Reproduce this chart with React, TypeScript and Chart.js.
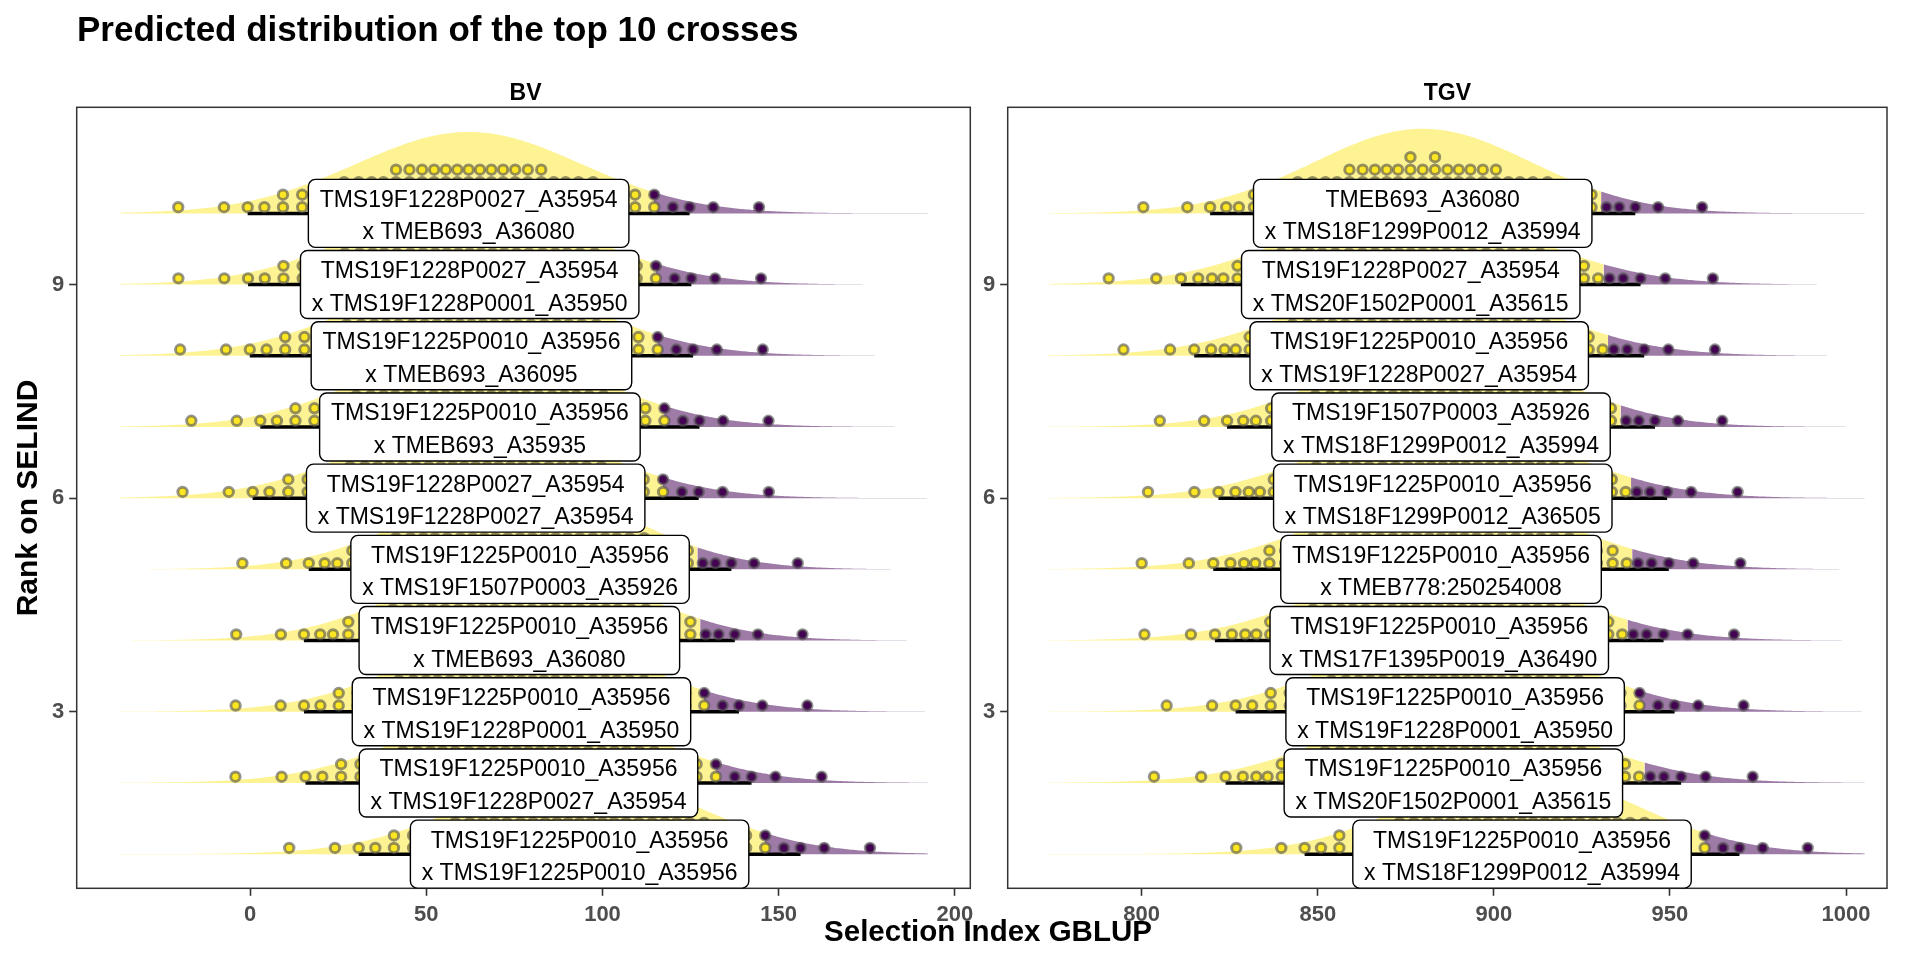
import React, { useEffect, useRef } from "react";
import { Chart, registerables } from "chart.js";

Chart.register(...registerables);

// ------------------------------------------------------------------ data
const RANKS = [1, 2, 3, 4, 5, 6, 7, 8, 9, 10];
const Y_TICKS = [3, 6, 9];

const BV_TICKS = [0, 50, 100, 150, 200];
const BV_MEAN = [93.5, 79.0, 77.0, 76.4, 76.6, 64.0, 65.2, 62.8, 62.3, 62.0];
const BV_SD = [32.0, 32.3, 31.5, 31.2, 30.6, 32.3, 31.8, 32.1, 32.1, 32.0];
const BV_PARENT_A = [
  "TMS19F1225P0010_A35956",
  "TMS19F1225P0010_A35956",
  "TMS19F1225P0010_A35956",
  "TMS19F1225P0010_A35956",
  "TMS19F1225P0010_A35956",
  "TMS19F1228P0027_A35954",
  "TMS19F1225P0010_A35956",
  "TMS19F1225P0010_A35956",
  "TMS19F1228P0027_A35954",
  "TMS19F1228P0027_A35954",
];
const BV_PARENT_B = [
  "TMS19F1225P0010_A35956",
  "TMS19F1228P0027_A35954",
  "TMS19F1228P0001_A35950",
  "TMEB693_A36080",
  "TMS19F1507P0003_A35926",
  "TMS19F1228P0027_A35954",
  "TMEB693_A35935",
  "TMEB693_A36095",
  "TMS19F1228P0001_A35950",
  "TMEB693_A36080",
];

const TGV_TICKS = [800, 850, 900, 950, 1000];
const TGV_MEAN = [908.0, 888.5, 889.0, 884.5, 885.0, 885.5, 885.0, 878.8, 876.4, 879.8];
const TGV_SD = [31.5, 33.0, 31.8, 32.5, 33.0, 32.5, 31.0, 32.6, 33.3, 30.8];
const TGV_PARENT_A = [
  "TMS19F1225P0010_A35956",
  "TMS19F1225P0010_A35956",
  "TMS19F1225P0010_A35956",
  "TMS19F1225P0010_A35956",
  "TMS19F1225P0010_A35956",
  "TMS19F1225P0010_A35956",
  "TMS19F1507P0003_A35926",
  "TMS19F1225P0010_A35956",
  "TMS19F1228P0027_A35954",
  "TMEB693_A36080",
];
const TGV_PARENT_B = [
  "TMS18F1299P0012_A35994",
  "TMS20F1502P0001_A35615",
  "TMS19F1228P0001_A35950",
  "TMS17F1395P0019_A36490",
  "TMEB778:250254008",
  "TMS18F1299P0012_A36505",
  "TMS18F1299P0012_A35994",
  "TMS19F1228P0027_A35954",
  "TMS20F1502P0001_A35615",
  "TMS18F1299P0012_A35994",
];

const N_DOTS = 100; // quantile dots per cross
const SELECTED_FRACTION = 0.05; // upper tail highlighted in purple

// ------------------------------------------------------------------ styles / layout
const FONT = '"Liberation Sans", Arial, Helvetica, sans-serif';
const SLAB_LOW = "rgba(253,231,37,0.5)";
const SLAB_HIGH = "rgba(68,1,84,0.52)";
const DOT_LOW = "#FDE725";
const DOT_HIGH = "#440154";
const DOT_RING = "rgba(80,80,80,0.6)";
const AXIS_COLOR = "#333333";
const TICK_TEXT = "#4D4D4D";

const W = 1920;
const H = 960;
const PANEL_TOP = 107.3;
const PANEL_BOTTOM = 888.3;
const Y_MIN = 0.52;
const Y_MAX = 11.49;
const PX_PER_Y = (PANEL_BOTTOM - PANEL_TOP) / (Y_MAX - Y_MIN);

const SLAB_SCALE = 36.6; // slab peak height (rank units) x sd
const SLAB_TAIL_Z = 3.09;
const BIN_WIDTH = 3.15; // dot bin width, x units
const DOT_R = 4.7;
const DOT_RING_W = 3;
const DOT_BASE_PX = 6.2;
const DOT_STEP_PX = 12.5;

const LABEL_FONT_SIZE = 23;
const LABEL_PAD_X = 11.3;
const LABEL_H = 68;
const LABEL_R = 7;

interface PanelSpec {
  name: string;
  means: number[];
  sds: number[];
  parentA: string[];
  parentB: string[];
  ticks: number[];
  xMin: number;
  xMax: number;
  canvasLeft: number;
  canvasWidth: number;
  panelLeft: number;
  panelRight: number;
}

const PANELS: PanelSpec[] = [
  {
    name: "BV",
    means: BV_MEAN,
    sds: BV_SD,
    parentA: BV_PARENT_A,
    parentB: BV_PARENT_B,
    ticks: BV_TICKS,
    xMin: -49.25,
    xMax: 204.4,
    canvasLeft: 0,
    canvasWidth: 978,
    panelLeft: 76.7,
    panelRight: 974.3,
  },
  {
    name: "TGV",
    means: TGV_MEAN,
    sds: TGV_SD,
    parentA: TGV_PARENT_A,
    parentB: TGV_PARENT_B,
    ticks: TGV_TICKS,
    xMin: 761.95,
    xMax: 1011.64,
    canvasLeft: 978,
    canvasWidth: 942,
    panelLeft: 1007.7,
    panelRight: 1887,
  },
];

// ------------------------------------------------------------------ helpers
function qnorm(p: number): number {
  const a = [-3.969683028665376e1, 2.209460984245205e2, -2.759285104469687e2, 1.38357751867269e2, -3.066479806614716e1, 2.506628277459239];
  const b = [-5.447609879822406e1, 1.615858368580409e2, -1.556989798598866e2, 6.680131188771972e1, -1.328068155288572e1];
  const c = [-7.784894002430293e-3, -3.223964580411365e-1, -2.400758277161838, -2.549732539343734, 4.374664141464968, 2.938163982698783];
  const d = [7.784695709041462e-3, 3.224671290700398e-1, 2.445134137142996, 3.754408661907416];
  const plow = 0.02425;
  if (p < plow) {
    const q = Math.sqrt(-2 * Math.log(p));
    return (((((c[0] * q + c[1]) * q + c[2]) * q + c[3]) * q + c[4]) * q + c[5]) / ((((d[0] * q + d[1]) * q + d[2]) * q + d[3]) * q + 1);
  }
  if (p > 1 - plow) {
    const q = Math.sqrt(-2 * Math.log(1 - p));
    return -(((((c[0] * q + c[1]) * q + c[2]) * q + c[3]) * q + c[4]) * q + c[5]) / ((((d[0] * q + d[1]) * q + d[2]) * q + d[3]) * q + 1);
  }
  const q = p - 0.5;
  const r = q * q;
  return ((((((a[0] * r + a[1]) * r + a[2]) * r + a[3]) * r + a[4]) * r + a[5]) * q) / (((((b[0] * r + b[1]) * r + b[2]) * r + b[3]) * r + b[4]) * r + 1);
}

interface Q {
  x: number;
  top: boolean;
}

function binQuantiles(mean: number, sd: number): { x: number; dots: Q[] }[] {
  const qs: Q[] = [];
  for (let i = 0; i < N_DOTS; i++) {
    const p = (i + 0.5) / N_DOTS;
    qs.push({ x: mean + sd * qnorm(p), top: p > 1 - SELECTED_FRACTION });
  }
  const half = BIN_WIDTH / 2;
  const bins: Q[][] = [];
  const centre = qs.filter((q) => Math.abs(q.x - mean) <= half);
  if (centre.length) bins.push(centre);
  const right = qs.filter((q) => q.x - mean > half);
  const left = qs.filter((q) => mean - q.x > half).reverse();
  for (const side of [right, left]) {
    let cur: Q[] = [];
    for (const q of side) {
      if (cur.length && Math.abs(q.x - cur[0].x) >= BIN_WIDTH) {
        bins.push(cur);
        cur = [];
      }
      cur.push(q);
    }
    if (cur.length) bins.push(cur);
  }
  return bins.map((b) => {
    const xs = b.map((q) => q.x);
    const sorted = [...b].sort((u, v) => u.x - v.x);
    return { x: (Math.min(...xs) + Math.max(...xs)) / 2, dots: sorted };
  });
}

function buildDatasets(spec: PanelSpec): any[] {
  const { means, sds } = spec;
  const lo = Math.min(...means.map((m, i) => m - SLAB_TAIL_Z * sds[i]));
  const hi = Math.max(...means.map((m, i) => m + SLAB_TAIL_Z * sds[i]));
  const slabs: any[] = [];
  const intervals: any[] = [];
  const lowDots: { x: number; y: number }[] = [];
  const highDots: { x: number; y: number }[] = [];
  const medians: { x: number; y: number }[] = [];
  const zCut = qnorm(1 - SELECTED_FRACTION);
  const z95 = qnorm(0.975);
  const z66 = qnorm(0.83);
  const steps = 400;

  RANKS.forEach((rank, i) => {
    const m = means[i];
    const s = sds[i];
    const cut = m + zCut * s;
    const dens = (x: number) => rank + (SLAB_SCALE / s) * Math.exp(-0.5 * ((x - m) / s) ** 2);
    const low: { x: number; y: number }[] = [];
    const high: { x: number; y: number }[] = [{ x: cut, y: dens(cut) }];
    for (let k = 0; k <= steps; k++) {
      const x = lo + ((hi - lo) * k) / steps;
      if (x < cut) low.push({ x, y: dens(x) });
      else high.push({ x, y: dens(x) });
    }
    low.push({ x: cut, y: dens(cut) });
    const slabBase = {
      type: "line",
      borderWidth: 0,
      borderColor: "rgba(0,0,0,0)",
      pointRadius: 0,
      tension: 0,
      order: 3,
      fill: { value: rank },
    };
    slabs.push({ ...slabBase, data: low, backgroundColor: SLAB_LOW });
    slabs.push({ ...slabBase, data: high, backgroundColor: SLAB_HIGH });

    intervals.push({
      type: "line",
      data: [
        { x: m - z95 * s, y: rank },
        { x: m + z95 * s, y: rank },
      ],
      borderColor: "#000000",
      borderWidth: 3.5,
      pointRadius: 0,
      order: 1,
    });
    intervals.push({
      type: "line",
      data: [
        { x: m - z66 * s, y: rank },
        { x: m + z66 * s, y: rank },
      ],
      borderColor: "#000000",
      borderWidth: 6.5,
      pointRadius: 0,
      order: 1,
    });
    medians.push({ x: m, y: rank });

    for (const bin of binQuantiles(m, s)) {
      bin.dots.forEach((q, j) => {
        const pt = { x: bin.x, y: rank + (DOT_BASE_PX + j * DOT_STEP_PX) / PX_PER_Y };
        (q.top ? highDots : lowDots).push(pt);
      });
    }
  });

  const dotBase = {
    type: "scatter",
    pointRadius: DOT_R,
    borderWidth: DOT_RING_W,
    borderColor: DOT_RING,
    order: 0,
  };
  return [
    { ...dotBase, data: lowDots, backgroundColor: DOT_LOW },
    { ...dotBase, data: highDots, backgroundColor: DOT_HIGH },
    {
      type: "scatter",
      data: medians,
      pointRadius: 6,
      borderWidth: 0,
      backgroundColor: "#000000",
      order: 1,
    },
    ...intervals,
    ...slabs,
  ];
}

const panelBorder = {
  id: "panelBorder",
  afterDatasetsDraw(chart: any) {
    const { ctx, chartArea: a } = chart;
    ctx.save();
    ctx.strokeStyle = AXIS_COLOR;
    ctx.lineWidth = 1.5;
    ctx.strokeRect(a.left, a.top, a.right - a.left, a.bottom - a.top);
    ctx.restore();
  },
};

function makeLabelPlugin(spec: PanelSpec) {
  return {
    id: "crossLabels",
    afterDatasetsDraw(chart: any) {
      const { ctx, scales } = chart;
      ctx.save();
      ctx.font = `${LABEL_FONT_SIZE}px ${FONT}`;
      ctx.textAlign = "center";
      ctx.textBaseline = "alphabetic";
      RANKS.forEach((rank, i) => {
        const cx = scales.x.getPixelForValue(spec.means[i]);
        const cy = scales.y.getPixelForValue(rank);
        const l1 = spec.parentA[i];
        const l2 = "x " + spec.parentB[i];
        const w = Math.max(ctx.measureText(l1).width, ctx.measureText(l2).width) + 2 * LABEL_PAD_X;
        ctx.beginPath();
        if (ctx.roundRect) ctx.roundRect(cx - w / 2, cy - LABEL_H / 2, w, LABEL_H, LABEL_R);
        else ctx.rect(cx - w / 2, cy - LABEL_H / 2, w, LABEL_H);
        ctx.fillStyle = "#ffffff";
        ctx.fill();
        ctx.lineWidth = 1.4;
        ctx.strokeStyle = "#000000";
        ctx.stroke();
        ctx.fillStyle = "#000000";
        ctx.fillText(l1, cx, cy - 6.6);
        ctx.fillText(l2, cx, cy + 26);
      });
      ctx.restore();
    },
  };
}

function makeConfig(spec: PanelSpec): any {
  const tickFont = { family: FONT, size: 22, weight: "bold" as const };
  const grid = {
    display: true,
    drawOnChartArea: false,
    drawTicks: true,
    tickLength: 7.5,
    tickWidth: 1.6,
    tickColor: AXIS_COLOR,
    color: AXIS_COLOR,
  };
  return {
    type: "scatter",
    data: { datasets: buildDatasets(spec) },
    options: {
      animation: false,
      responsive: false,
      maintainAspectRatio: false,
      events: [],
      layout: {
        padding: {
          top: PANEL_TOP,
          right: spec.canvasLeft + spec.canvasWidth - spec.panelRight,
          bottom: 0,
          left: 0,
        },
      },
      plugins: {
        legend: { display: false },
        tooltip: { enabled: false },
        title: { display: false },
      },
      scales: {
        x: {
          type: "linear",
          min: spec.xMin,
          max: spec.xMax,
          afterBuildTicks: (s: any) => {
            s.ticks = spec.ticks.map((v) => ({ value: v }));
          },
          afterFit: (s: any) => {
            s.height = H - PANEL_BOTTOM;
            s.paddingLeft = 0;
            s.paddingRight = 0;
          },
          ticks: {
            font: tickFont,
            color: TICK_TEXT,
            padding: 6,
            maxRotation: 0,
            autoSkip: false,
            callback: (v: any) => String(v),
          },
          grid,
          border: { display: false },
        },
        y: {
          type: "linear",
          min: Y_MIN,
          max: Y_MAX,
          afterBuildTicks: (s: any) => {
            s.ticks = Y_TICKS.map((v) => ({ value: v }));
          },
          afterFit: (s: any) => {
            s.width = spec.panelLeft - spec.canvasLeft;
            s.paddingTop = 0;
            s.paddingBottom = 0;
          },
          ticks: {
            font: tickFont,
            color: TICK_TEXT,
            padding: 5,
            autoSkip: false,
            callback: (v: any) => String(v),
          },
          grid,
          border: { display: false },
        },
      },
    },
    plugins: [panelBorder, makeLabelPlugin(spec)],
  };
}

function Panel({ spec }: { spec: PanelSpec }) {
  const ref = useRef<HTMLCanvasElement>(null);
  useEffect(() => {
    const canvas = ref.current;
    if (!canvas) return;
    const chart = new Chart(canvas, makeConfig(spec));
    return () => chart.destroy();
  }, [spec]);
  return (
    <canvas
      ref={ref}
      width={spec.canvasWidth}
      height={H}
      style={{ position: "absolute", left: spec.canvasLeft, top: 0, width: spec.canvasWidth, height: H }}
    />
  );
}

function Text({
  text,
  x,
  baseline,
  size,
  align = "left",
  rotate = false,
}: {
  text: string;
  x: number;
  baseline: number;
  size: number;
  align?: "left" | "center";
  rotate?: boolean;
}) {
  const boxW = 1200;
  if (rotate) {
    // x is the baseline position after rotation, baseline is the vertical centre
    const cx = x - 0.3465 * size;
    return (
      <div
        style={{
          position: "absolute",
          left: cx - boxW / 2,
          top: baseline - size / 2,
          width: boxW,
          height: size,
          lineHeight: `${size}px`,
          fontSize: size,
          fontWeight: "bold",
          textAlign: "center",
          whiteSpace: "nowrap",
          color: "#000",
          transform: "rotate(-90deg)",
        }}
      >
        {text}
      </div>
    );
  }
  const top = baseline - 0.8465 * size;
  return (
    <div
      style={{
        position: "absolute",
        left: align === "center" ? x - boxW / 2 : x,
        width: align === "center" ? boxW : undefined,
        top,
        height: size,
        lineHeight: `${size}px`,
        fontSize: size,
        fontWeight: "bold",
        textAlign: align,
        whiteSpace: "nowrap",
        color: "#000",
      }}
    >
      {text}
    </div>
  );
}

export default function App() {
  return (
    <div
      style={{
        position: "absolute",
        left: 0,
        top: 0,
        width: W,
        height: H,
        overflow: "hidden",
        background: "#ffffff",
        fontFamily: FONT,
      }}
    >
      {PANELS.map((p) => (
        <Panel key={p.name} spec={p} />
      ))}
      <Text text="Predicted distribution of the top 10 crosses" x={77} baseline={40.4} size={35} />
      {PANELS.map((p) => (
        <Text
          key={"strip-" + p.name}
          text={p.name}
          x={(p.panelLeft + p.panelRight) / 2}
          baseline={100}
          size={23}
          align="center"
        />
      ))}
      <Text text="Selection Index GBLUP" x={988} baseline={941} size={29.5} align="center" />
      <Text text="Rank on SELIND" x={37} baseline={498} size={30} rotate />
    </div>
  );
}
